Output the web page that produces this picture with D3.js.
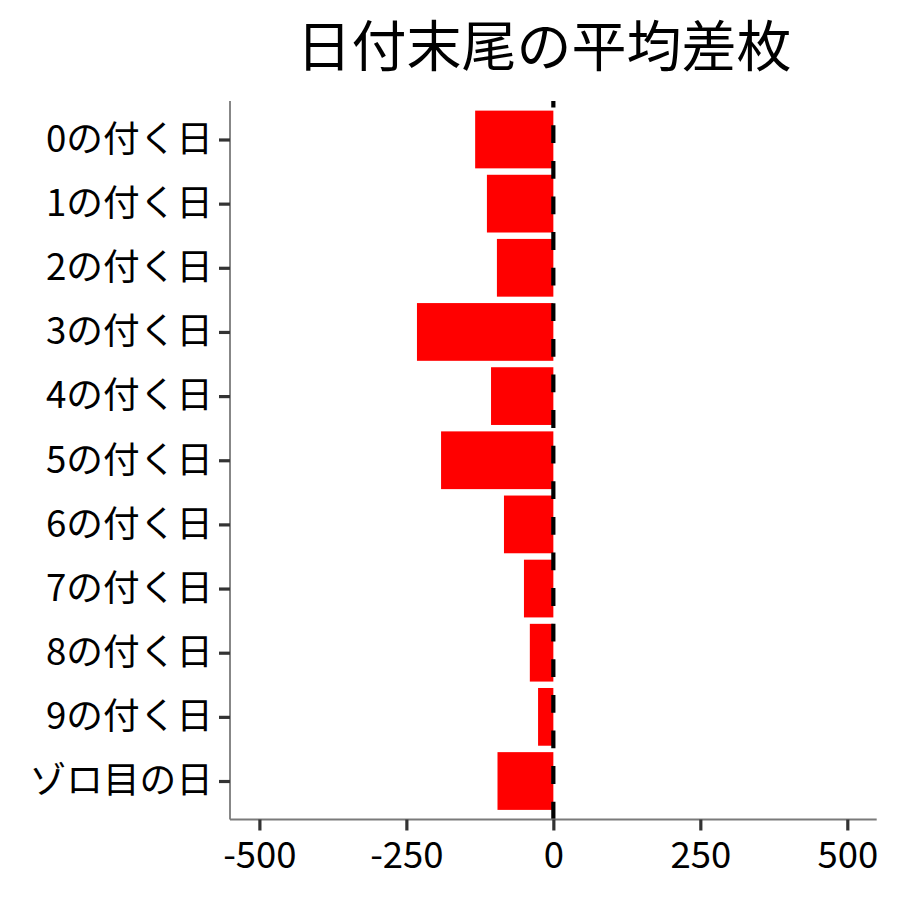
<!DOCTYPE html>
<html>
<head>
<meta charset="utf-8">
<script src="https://cdn.jsdelivr.net/npm/d3@7"></script>
<style>
  html, body { margin: 0; padding: 0; background: #fff; }
  svg { display: block; font-family: "Noto Sans CJK JP", "Noto Sans", sans-serif; }
</style>
</head>
<body>
<svg id="chart" width="900" height="900"></svg>
<script>
const categories = ["0の付く日","1の付く日","2の付く日","3の付く日","4の付く日","5の付く日","6の付く日","7の付く日","8の付く日","9の付く日","ゾロ目の日"];
const values = [-133, -113, -96, -232, -106, -191, -84, -50, -40, -26, -95];
const xTicks = [-500, -250, 0, 250, 500];
const xTickLabels = ["-500", "-250", "0", "250", "500"];
const title = "日付末尾の平均差枚";

const svg = d3.select("#chart");
const pLeft = 230, pRight = 876.7, pTop = 101, pBottom = 819.5;

const x = d3.scaleLinear().domain([-550, 550]).range([pLeft, pRight]);
const y = d3.scalePoint().domain(categories).range([pTop, pBottom]).padding(0.6);
const bh = y.step() * 0.9;

// bars
svg.append("g").selectAll("rect").data(categories).join("rect")
  .attr("x", (d, i) => x(Math.min(0, values[i])))
  .attr("width", (d, i) => Math.abs(x(values[i]) - x(0)))
  .attr("y", d => y(d) - bh / 2)
  .attr("height", bh)
  .attr("fill", "#ff0000");

// dashed zero line (drawn from bottom upwards)
svg.append("line")
  .attr("x1", x(0)).attr("x2", x(0))
  .attr("y1", pBottom).attr("y2", pTop)
  .attr("stroke", "#000").attr("stroke-width", 4.2)
  .attr("stroke-dasharray", "17.8,17.8");

// x axis
const xAxis = svg.append("g").attr("transform", `translate(0,${pBottom})`)
  .call(d3.axisBottom(x).tickValues(xTicks).tickFormat((d, i) => xTickLabels[i]).tickSize(11).tickPadding(12));
xAxis.select(".domain").attr("stroke", "#7a7a7a").attr("stroke-width", 1.8).attr("d", `M${pLeft},0H${pRight}`);
xAxis.selectAll(".tick line").attr("stroke", "#333").attr("stroke-width", 3.2);
xAxis.selectAll(".tick text").attr("fill", "#000").attr("font-size", 36.5)
  .attr("font-family", "'Noto Sans CJK JP', sans-serif");

// y axis
const yAxis = svg.append("g").attr("transform", `translate(${pLeft},0)`)
  .call(d3.axisLeft(y).tickSize(11).tickPadding(6));
yAxis.select(".domain").attr("stroke", "#7a7a7a").attr("stroke-width", 1.8).attr("d", `M0,${pTop}V${pBottom}`);
yAxis.selectAll(".tick line").attr("stroke", "#333").attr("stroke-width", 3.2);
yAxis.selectAll(".tick text").attr("fill", "#000").attr("font-size", 36.7)
  .attr("font-family", "'Noto Sans CJK JP', sans-serif");

// title
svg.append("text")
  .attr("x", 544).attr("y", 66)
  .attr("text-anchor", "middle")
  .attr("font-size", 55)
  .attr("font-family", "'Noto Sans CJK JP', sans-serif")
  .attr("fill", "#000")
  .text(title);
</script>
</body>
</html>
